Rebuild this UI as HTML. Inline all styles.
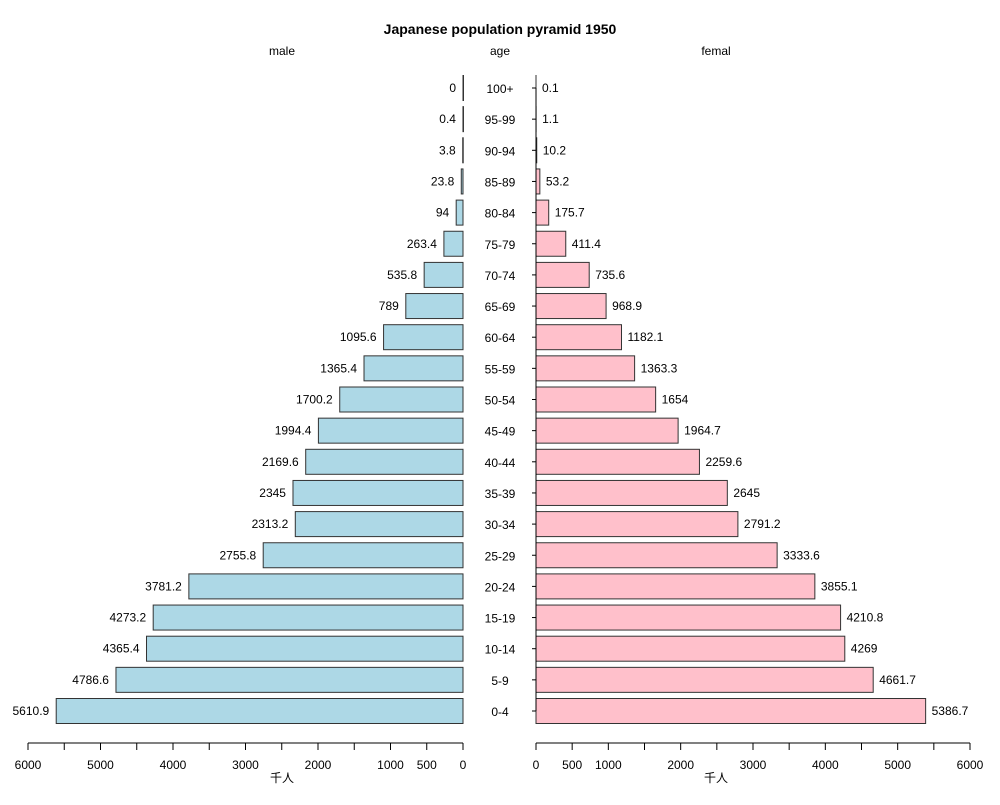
<!DOCTYPE html>
<html><head><meta charset="utf-8"><style>body{margin:0;background:#fff}</style></head><body>
<svg id="c" width="1000" height="800" xmlns="http://www.w3.org/2000/svg" font-family="Liberation Sans, Noto Sans CJK JP, sans-serif">
<text x="500" y="34" text-anchor="middle" font-weight="bold" font-size="14">Japanese population pyramid 1950</text>
<text x="282" y="55" text-anchor="middle" font-size="12">male</text>
<text x="500" y="55" text-anchor="middle" font-size="12">age</text>
<text x="716" y="55" text-anchor="middle" font-size="12">femal</text>
<g id="g"></g>
</svg>
<script>
const ages=["0-4","5-9","10-14","15-19","20-24","25-29","30-34","35-39","40-44","45-49","50-54","55-59","60-64","65-69","70-74","75-79","80-84","85-89","90-94","95-99","100+"];
const male=[5610.9,4786.6,4365.4,4273.2,3781.2,2755.8,2313.2,2345,2169.6,1994.4,1700.2,1365.4,1095.6,789,535.8,263.4,94,23.8,3.8,0.4,0];
const female=[5386.7,4661.7,4269,4210.8,3855.1,3333.6,2791.2,2645,2259.6,1964.7,1654,1363.3,1182.1,968.9,735.6,411.4,175.7,53.2,10.2,1.1,0.1];
const leftTicks=[0,500,1000,2000,3000,4000,5000,6000];
const rightTicks=[0,500,1000,2000,3000,4000,5000,6000];
const NS="http://www.w3.org/2000/svg",g=document.getElementById('g');
const xl=v=>463-v*435/6000, xr=v=>536+v*434/6000, yc=i=>711-i*31.15;
function mk(t,a,txt){const e=document.createElementNS(NS,t);for(const k in a)e.setAttribute(k,a[k]);if(txt!==undefined)e.textContent=txt;g.appendChild(e);return e;}
ages.forEach((a,i)=>{
 const y=yc(i);
 let r=mk('rect',{x:xl(male[i]),y:y-12.5,width:Math.max(0.5,463-xl(male[i])),height:25,fill:'#add8e6',stroke:'#333','stroke-width':1});
 
 
 let t=mk('text',{x:xl(male[i])-7,y:y+4,'text-anchor':'end','font-size':12},String(male[i]));
 
 
 r=mk('rect',{x:536,y:y-12.5,width:xr(female[i])-536,height:25,fill:'#ffc0cb',stroke:'#333','stroke-width':1});
 
 
 t=mk('text',{x:xr(female[i])+6,y:y+4,'font-size':12},String(female[i]));
 
 
 t=mk('text',{x:500,y:y+5,'text-anchor':'middle','font-size':12},a);
 
 
 const tk=mk('line',{x1:532,x2:536,y1:y,y2:y,stroke:'#000'});
 
 
});
let ya=mk('line',{x1:536,x2:536,y1:yc(20),y2:yc(0),stroke:'#000'});


let al=mk('line',{x1:xl(6000),x2:xl(0),y1:743,y2:743,stroke:'#000'});


let ar=mk('line',{x1:xr(0),x2:xr(6000),y1:743,y2:743,stroke:'#000'});


for(let v=0;v<=6000;v+=500){
 let l=mk('line',{x1:xl(v),x2:xl(v),y1:743,y2:750,stroke:'#000'});
 
 
 l=mk('line',{x1:xr(v),x2:xr(v),y1:743,y2:750,stroke:'#000'});
 
 
}
leftTicks.forEach(v=>{const t=mk('text',{x:xl(v),y:769,'text-anchor':'middle','font-size':12},String(v));
 
 });
rightTicks.forEach(v=>{const t=mk('text',{x:xr(v),y:769,'text-anchor':'middle','font-size':12},String(v));
 
 });
let u=mk('text',{x:282,y:782,'text-anchor':'middle','font-size':12},'千人');


u=mk('text',{x:716,y:782,'text-anchor':'middle','font-size':12},'千人');


</script>
</body></html>
